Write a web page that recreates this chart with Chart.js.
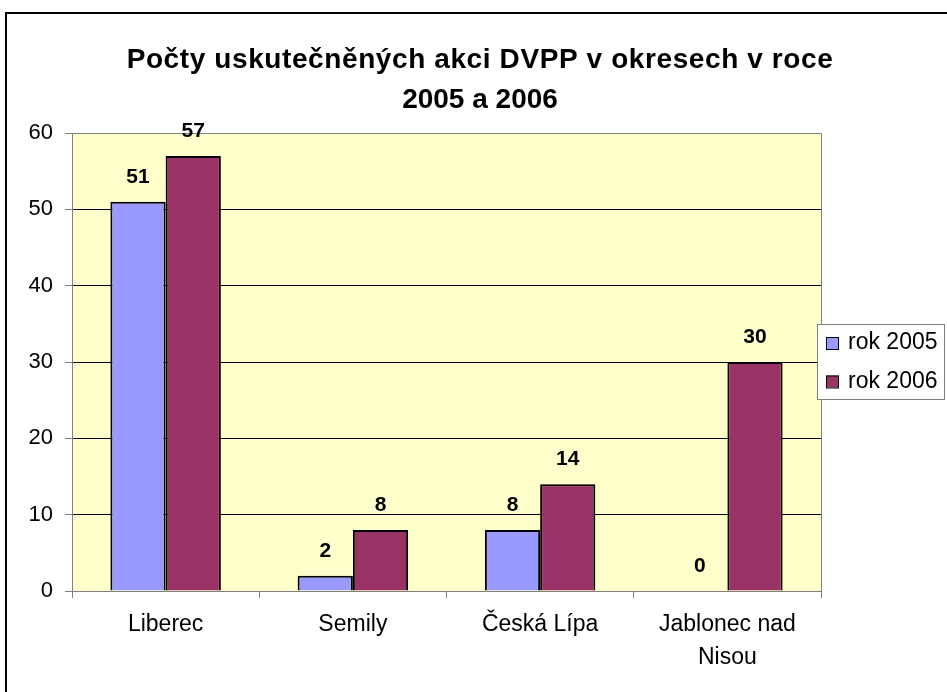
<!DOCTYPE html>
<html>
<head>
<meta charset="utf-8">
<script src="https://cdn.jsdelivr.net/npm/chart.js@4/dist/chart.umd.min.js"></script>
<style>
  html, body { margin: 0; padding: 0; background: #ffffff; }
  canvas { display: block; }
</style>
</head>
<body>
<canvas id="c" width="947" height="692"></canvas>
<script>
const titleLines = ['Počty uskutečněných akci DVPP v okresech v roce', '2005 a 2006'];
const categories = ['Liberec', 'Semily', 'Česká Lípa', ['Jablonec nad', 'Nisou']];
const seriesNames = ['rok 2005', 'rok 2006'];
const values2005 = [51, 2, 8, 0];
const values2006 = [57, 8, 14, 30];
const yTicks = [0, 10, 20, 30, 40, 50, 60];

const FONT = '"Liberation Sans", Arial, sans-serif';

const framePlugin = {
  id: 'frame',
  beforeDraw(chart) {
    const ctx = chart.ctx, a = chart.chartArea;
    ctx.save();
    ctx.fillStyle = '#ffffff';
    ctx.fillRect(0, 0, chart.width, chart.height);
    ctx.strokeStyle = '#000000';
    ctx.lineWidth = 2;
    ctx.strokeRect(6, 13, 1200, 1200);
    ctx.fillStyle = '#FFFFCC';
    ctx.fillRect(a.left, a.top, a.right - a.left, a.bottom - a.top);
    ctx.restore();
  },
  beforeDatasetsDraw(chart) {
    const ctx = chart.ctx, a = chart.chartArea;
    ctx.save();
    ctx.strokeStyle = '#808080';
    ctx.lineWidth = 1;
    ctx.beginPath();
    ctx.moveTo(a.left, a.top + 0.5);
    ctx.lineTo(a.right + 0.5, a.top + 0.5);
    ctx.lineTo(a.right + 0.5, a.bottom);
    ctx.stroke();
    ctx.restore();
  },
  afterDraw(chart) {
    const ctx = chart.ctx;
    ctx.save();
    // title
    ctx.fillStyle = '#000';
    ctx.font = 'bold 28px ' + FONT;
    ctx.textAlign = 'center';
    ctx.textBaseline = 'alphabetic';
    titleLines.forEach((t, i) => {
      ctx.letterSpacing = i === 0 ? '0.6px' : '0px';
      ctx.fillText(t, 480, 68 + i * 40);
    });
    ctx.letterSpacing = '0px';
    // legend
    ctx.fillStyle = '#ffffff';
    ctx.fillRect(817, 324, 128, 76);
    ctx.strokeStyle = '#808080';
    ctx.lineWidth = 1;
    ctx.strokeRect(817.5, 324.5, 127, 75);
    ctx.font = '23px ' + FONT;
    ctx.textAlign = 'left';
    chart.data.datasets.forEach((ds, i) => {
      const base = 349 + i * 38.5;
      ctx.fillStyle = ds.backgroundColor;
      ctx.fillRect(826, base - 12, 13, 12);
      ctx.strokeStyle = '#000';
      ctx.lineWidth = 1;
      ctx.strokeRect(826.5, base - 11.5, 12, 12);
      ctx.fillStyle = '#000';
      ctx.fillText(ds.label, 848, base);
    });
    ctx.restore();
  },
  afterDatasetsDraw(chart) {
    const ctx = chart.ctx;
    ctx.save();
    ctx.fillStyle = '#000';
    ctx.font = 'bold 21px ' + FONT;
    ctx.textAlign = 'center';
    ctx.textBaseline = 'alphabetic';
    chart.data.datasets.forEach((ds, di) => {
      const meta = chart.getDatasetMeta(di);
      meta.data.forEach((bar, i) => {
        ctx.fillText(String(ds.data[i]), bar.x, bar.y - 19);
      });
    });
    ctx.restore();
  }
};

new Chart(document.getElementById('c'), {
  type: 'bar',
  data: {
    labels: categories,
    datasets: [
      { label: seriesNames[0], data: values2005, backgroundColor: '#9999FF', borderColor: '#000000', borderWidth: 2, categoryPercentage: 0.59, barPercentage: 1.0 },
      { label: seriesNames[1], data: values2006, backgroundColor: '#993366', borderColor: '#000000', borderWidth: 2, categoryPercentage: 0.59, barPercentage: 1.0 }
    ]
  },
  options: {
    responsive: false,
    animation: false,
    devicePixelRatio: 1,
    layout: { padding: { left: 0, right: 126, top: 133, bottom: 0 } },
    plugins: { legend: { display: false }, title: { display: false }, tooltip: { enabled: false } },
    scales: {
      x: {
        afterFit(scale) { scale.height = 101; },
        grid: { offset: true, drawOnChartArea: false, drawTicks: true, tickLength: 7, color: '#808080', tickColor: '#808080' },
        border: { display: true, color: '#808080', width: 1 },
        ticks: { color: '#000', font: { family: FONT, size: 23, lineHeight: 1.4 }, padding: 11, maxRotation: 0, autoSkip: false }
      },
      y: {
        min: 0, max: 60,
        afterFit(scale) { scale.width = 72; },
        afterBuildTicks(scale) { scale.ticks = yTicks.map(v => ({ value: v })); },
        grid: {
          color: ctx => (ctx.tick && (ctx.tick.value === 0 || ctx.tick.value === 60)) ? '#808080' : '#000000',
          tickColor: '#808080', tickLength: 7, lineWidth: 1
        },
        border: { display: true, color: '#808080', width: 1 },
        ticks: { color: '#000', font: { family: FONT, size: 22 }, padding: 12, stepSize: 10 }
      }
    }
  },
  plugins: [framePlugin]
});
</script>
</body>
</html>
